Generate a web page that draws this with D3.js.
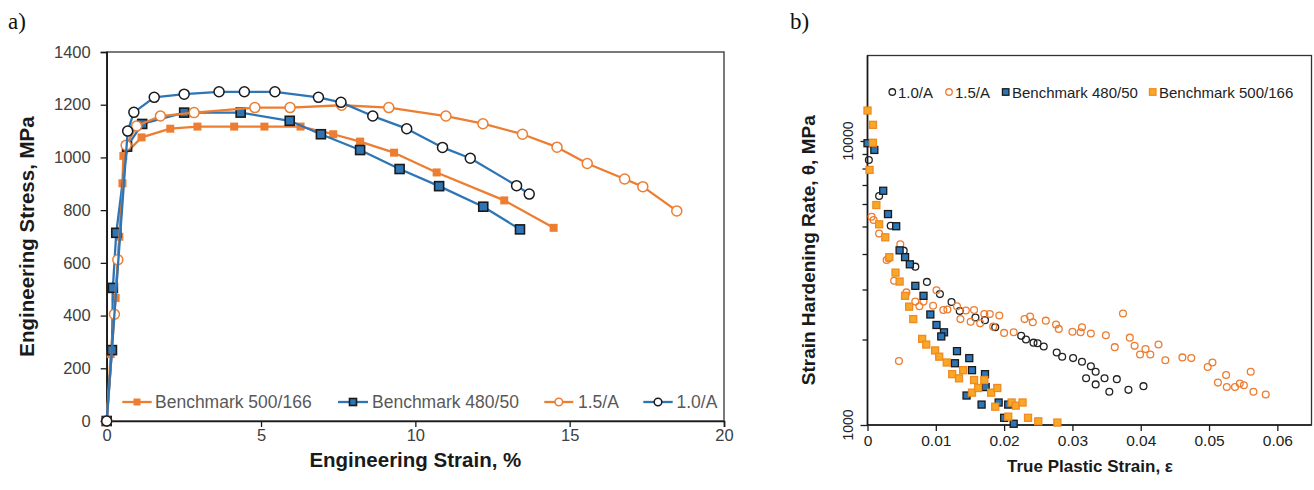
<!DOCTYPE html>
<html>
<head>
<meta charset="utf-8">
<script src="https://cdn.jsdelivr.net/npm/d3@7"></script>
<style>
  html, body { margin: 0; padding: 0; background: #fff; }
  svg { display: block; font-family: "Liberation Sans", Arial, sans-serif; }
</style>
</head>
<body>
<svg id="fig" width="1314" height="490"></svg>
<script>
// ---------- (a) engineering stress-strain curves ----------
const b500Strain = [0, 0.13, 0.29, 0.41, 0.51, 0.54, 1.13, 2.06, 2.94, 4.13, 5.11, 6.28, 7.34, 8.21, 9.31, 10.69, 12.88, 14.48];
const b500Stress = [0, 254, 467, 699, 902, 1006, 1076, 1109, 1117, 1117, 1117, 1117, 1088, 1060, 1018, 943, 837, 733];

const b480Strain = [0, 0.17, 0.2, 0.31, 0.66, 1.15, 2.51, 4.34, 5.93, 6.94, 8.21, 9.49, 10.77, 12.2, 13.39];
const b480Stress = [0, 269, 505, 714, 1041, 1127, 1170, 1170, 1139, 1088, 1028, 956, 891, 813, 727];

const a15Strain = [0, 0.25, 0.36, 0.63, 0.97, 1.74, 2.83, 4.80, 5.94, 7.61, 9.14, 10.99, 12.19, 13.47, 14.59, 15.57, 16.78, 17.37, 18.47];
const a15Stress = [0, 405, 612, 1046, 1119, 1157, 1170, 1189, 1189, 1198, 1189, 1157, 1128, 1088, 1039, 977, 918, 889, 797];

const a10Strain = [0, 0.68, 0.88, 1.54, 2.51, 3.64, 4.46, 5.45, 6.86, 7.59, 8.62, 9.72, 10.88, 11.78, 13.28, 13.69];
const a10Stress = [0, 1100, 1171, 1228, 1240, 1249, 1249, 1249, 1228, 1209, 1157, 1109, 1038, 997, 893, 861];

const strainTicks = [0, 5, 10, 15, 20];
const stressTicks = [0, 200, 400, 600, 800, 1000, 1200, 1400];

// ---------- (b) strain hardening rate ----------
const t10Strain = [0.0002, 0.0017, 0.0034, 0.0053, 0.0070, 0.0087, 0.0106, 0.0123, 0.0135, 0.0158, 0.0172, 0.0187, 0.0225, 0.0232, 0.0243, 0.0249, 0.0258, 0.0277, 0.0285, 0.0301, 0.0314, 0.0327, 0.0334, 0.0320, 0.0334, 0.0347, 0.0365, 0.0354, 0.0382, 0.0404];
const t10Theta = [8570, 6400, 5030, 4110, 3610, 3190, 2890, 2710, 2520, 2390, 2340, 2210, 2060, 2000, 1950, 1940, 1890, 1800, 1740, 1720, 1670, 1610, 1540, 1460, 1390, 1460, 1450, 1310, 1330, 1370];

const t15Strain = [0.0006, 0.0009, 0.0017, 0.0028, 0.0031, 0.0039, 0.0048, 0.0046, 0.0057, 0.0070, 0.0076, 0.0082, 0.0096, 0.0101, 0.0111, 0.0117, 0.0131, 0.0136, 0.0144, 0.0151, 0.0156, 0.0165, 0.0171, 0.0179, 0.0184, 0.0193, 0.0200, 0.0214, 0.0230, 0.0238, 0.0242, 0.0261, 0.0276, 0.0280, 0.0300, 0.0312, 0.0314, 0.0327, 0.0349, 0.0362, 0.0374, 0.0384, 0.0391, 0.0399, 0.0407, 0.0414, 0.0426, 0.0436, 0.0461, 0.0474, 0.0498, 0.0505, 0.0513, 0.0525, 0.0526, 0.0538, 0.0545, 0.0551, 0.0561, 0.0565, 0.0583];
const t15Theta = [5410, 5270, 4720, 3810, 3860, 3220, 4330, 1680, 2930, 2720, 2620, 2720, 2630, 2980, 2540, 2550, 2620, 2360, 2530, 2310, 2540, 2280, 2460, 2460, 2220, 2430, 2110, 2120, 2360, 2410, 2300, 2330, 2260, 2180, 2130, 2120, 2210, 2100, 2070, 1880, 2470, 2030, 1900, 1770, 1850, 1770, 1920, 1690, 1730, 1720, 1600, 1660, 1410, 1500, 1360, 1360, 1400, 1380, 1540, 1310, 1280];

const t480Strain = [0, 0.0010, 0.0023, 0.0030, 0.0042, 0.0047, 0.0055, 0.0062, 0.0070, 0.0082, 0.0092, 0.0101, 0.0112, 0.0108, 0.0131, 0.0128, 0.0149, 0.0153, 0.0172, 0.0173, 0.0145, 0.0167, 0.0192, 0.0206, 0.0200, 0.0214];
const t480Theta = [9820, 9300, 6680, 5530, 5010, 4120, 3900, 3680, 3090, 2850, 2450, 2250, 2120, 2050, 1820, 1650, 1720, 1560, 1510, 1360, 1270, 1180, 1200, 1180, 1060, 1010];

const t500Strain = [0, 0.0008, 0.0008, 0.0003, 0.0013, 0.0017, 0.0026, 0.0032, 0.0041, 0.0047, 0.0055, 0.0061, 0.0067, 0.0080, 0.0086, 0.0099, 0.0105, 0.0116, 0.0124, 0.0134, 0.0140, 0.0153, 0.0156, 0.0162, 0.0171, 0.0181, 0.0187, 0.0190, 0.0206, 0.0211, 0.0217, 0.0227, 0.0235, 0.0250, 0.0278];
const t500Theta = [12800, 11400, 9860, 7910, 5950, 5090, 4580, 3900, 3440, 3200, 2850, 2610, 2360, 2010, 1920, 1830, 1740, 1660, 1510, 1460, 1560, 1300, 1440, 1350, 1440, 1300, 1160, 1350, 1070, 1200, 1170, 1200, 1060, 1030, 1020];

const trueStrainTicks = [0, 0.01, 0.02, 0.03, 0.04, 0.05, 0.06];
const thetaMajorTicks = [1000, 10000];
const thetaMinorTicks = [2000, 3000, 4000, 5000, 6000, 7000, 8000, 9000];

const ORANGE = "#ED7D31";
const BLUE = "#2E75B6";
const GOLD = "#F9A825";
const INK = "#1a1a1a";
const TEXT = "#404040";

const svg = d3.select("#fig");
const zip = (xs, ys) => xs.map((x, i) => [x, ys[i]]);

// panel letters
svg.append("text").attr("x", 8).attr("y", 29).attr("font-family", "'Liberation Serif', 'Times New Roman', serif")
  .attr("font-size", 23).attr("fill", "#111").text("a)");
svg.append("text").attr("x", 790).attr("y", 29).attr("font-family", "'Liberation Serif', 'Times New Roman', serif")
  .attr("font-size", 23).attr("fill", "#111").text("b)");

// ================= panel (a) =================
const A = { left: 106.7, right: 724, top: 52, bottom: 421 };
const xA = d3.scaleLinear().domain([0, 20]).range([A.left, A.right]);
const yA = d3.scaleLinear().domain([0, 1400]).range([A.bottom, A.top]);

const gA = svg.append("g");

// frame
gA.append("rect").attr("x", A.left).attr("y", A.top).attr("width", A.right - A.left).attr("height", A.bottom - A.top)
  .attr("fill", "none").attr("stroke", "#333").attr("stroke-width", 1.3);

const axA_x = gA.append("g").attr("transform", `translate(0,${A.bottom})`)
  .call(d3.axisBottom(xA).tickValues(strainTicks).tickSize(6).tickPadding(2).tickFormat(d3.format("d")));
const axA_y = gA.append("g").attr("transform", `translate(${A.left},0)`)
  .call(d3.axisLeft(yA).tickValues(stressTicks).tickSize(6).tickPadding(10).tickFormat(d3.format("d")));
[axA_x, axA_y].forEach(ax => {
  ax.select(".domain").attr("stroke", INK).attr("stroke-width", 1.6);
  ax.selectAll(".tick line").attr("stroke", INK).attr("stroke-width", 1.3);
  ax.selectAll(".tick text").attr("font-family", "'Liberation Sans', Arial, sans-serif")
    .attr("font-size", 16.5).attr("fill", TEXT);
});

gA.append("text").attr("x", (A.left + A.right) / 2).attr("y", 467).attr("text-anchor", "middle")
  .attr("font-weight", "bold").attr("font-size", 20.5).attr("fill", INK).text("Engineering Strain, %");
gA.append("text").attr("transform", `translate(34,${(A.top + A.bottom) / 2}) rotate(-90)`).attr("text-anchor", "middle")
  .attr("font-weight", "bold").attr("font-size", 20.5).attr("fill", INK).text("Engineering Stress, MPa");

const lineA = d3.line().x(d => xA(d[0])).y(d => yA(d[1]));

const seriesA = [
  { name: "Benchmark 500/166", pts: zip(b500Strain, b500Stress), color: ORANGE, marker: "sq", fill: ORANGE, stroke: "none", size: 8 },
  { name: "Benchmark 480/50", pts: zip(b480Strain, b480Stress), color: BLUE, marker: "sq", fill: BLUE, stroke: INK, size: 9 },
  { name: "1.5/A", pts: zip(a15Strain, a15Stress), color: ORANGE, marker: "ci", fill: "#fff", stroke: ORANGE, size: 5 },
  { name: "1.0/A", pts: zip(a10Strain, a10Stress), color: BLUE, marker: "ci", fill: "#fff", stroke: INK, size: 5 }
];

function drawMarker(g, m, cx, cy, s) {
  if (m.marker === "sq") {
    g.append("rect").attr("x", cx - s / 2).attr("y", cy - s / 2).attr("width", s).attr("height", s)
      .attr("fill", m.fill).attr("stroke", m.stroke).attr("stroke-width", m.stroke === "none" ? 0 : 1.6);
  } else {
    g.append("circle").attr("cx", cx).attr("cy", cy).attr("r", s)
      .attr("fill", m.fill).attr("stroke", m.stroke).attr("stroke-width", 1.5);
  }
}

seriesA.forEach(s => {
  const g = gA.append("g");
  g.append("path").datum(s.pts).attr("d", lineA).attr("fill", "none")
    .attr("stroke", s.color).attr("stroke-width", 2.3).attr("stroke-linejoin", "round");
  s.pts.forEach(p => drawMarker(g, s, xA(p[0]), yA(p[1]), s.size));
});

// legend for (a)
const legA = [
  { x0: 122.3, x1: 151.7, tx: 155 },
  { x0: 338, x1: 368, tx: 372 },
  { x0: 544.3, x1: 573.3, tx: 578 },
  { x0: 643.3, x1: 672.7, tx: 676.5 }
];
const legAy = 402;
seriesA.forEach((s, i) => {
  const L = legA[i];
  gA.append("line").attr("x1", L.x0).attr("x2", L.x1).attr("y1", legAy).attr("y2", legAy)
    .attr("stroke", s.color).attr("stroke-width", 2.3);
  drawMarker(gA, s, (L.x0 + L.x1) / 2, legAy, s.marker === "sq" ? 7 : 3.8);
  gA.append("text").attr("x", L.tx).attr("y", legAy + 6).attr("font-size", 17.5).attr("fill", "#595959").text(s.name);
});

// ================= panel (b) =================
const B = { left: 867.5, right: 1311.5, top: 55.5, bottom: 425 };
const xB = d3.scaleLinear().domain([0, 0.065]).range([B.left, B.right]);
const yB = d3.scaleLog().domain([1000, 20000]).range([B.bottom, B.top]);

const gB = svg.append("g");
gB.append("rect").attr("x", B.left).attr("y", B.top).attr("width", B.right - B.left).attr("height", B.bottom - B.top)
  .attr("fill", "none").attr("stroke", "#333").attr("stroke-width", 1.3);

const axB_x = gB.append("g").attr("transform", `translate(0,${B.bottom})`)
  .call(d3.axisBottom(xB).tickValues(trueStrainTicks).tickSize(6).tickPadding(4).tickFormat(d => d === 0 ? "0" : d3.format(".2f")(d)));
axB_x.select(".domain").remove();
gB.append("line").attr("x1", B.left).attr("x2", B.right).attr("y1", B.bottom).attr("y2", B.bottom)
  .attr("stroke", INK).attr("stroke-width", 1.6);

const axB_y = gB.append("g").attr("transform", `translate(${B.left},0)`)
  .call(d3.axisLeft(yB).tickValues(thetaMinorTicks).tickSize(5).tickFormat(""));
axB_y.select(".domain").remove();
const axB_yMaj = gB.append("g").attr("transform", `translate(${B.left},0)`)
  .call(d3.axisLeft(yB).tickValues(thetaMajorTicks).tickSize(7).tickFormat(""));
axB_yMaj.select(".domain").remove();
gB.append("line").attr("x1", B.left).attr("x2", B.left).attr("y1", B.top).attr("y2", B.bottom)
  .attr("stroke", INK).attr("stroke-width", 1.6);

[axB_x, axB_y, axB_yMaj].forEach(ax => ax.selectAll(".tick line").attr("stroke", INK).attr("stroke-width", 1.3));
axB_x.selectAll(".tick text").attr("font-family", "'Liberation Sans', Arial, sans-serif")
  .attr("font-size", 15.5).attr("fill", "#222");

// rotated major labels on log axis
thetaMajorTicks.forEach(v => {
  gB.append("text").attr("transform", `translate(853,${yB(v)}) rotate(-90)`).attr("text-anchor", "middle")
    .attr("font-size", 14).attr("fill", "#222").text(d3.format("d")(v));
});

gB.append("text").attr("x", 1090).attr("y", 472).attr("text-anchor", "middle")
  .attr("font-weight", "bold").attr("font-size", 17).attr("fill", INK).text("True Plastic Strain, ε");
gB.append("text").attr("transform", `translate(815,${(B.top + B.bottom) / 2 + 10}) rotate(-90)`).attr("text-anchor", "middle")
  .attr("font-weight", "bold").attr("font-size", 19).attr("fill", INK).text("Strain Hardening Rate, θ, MPa");

const seriesB = [
  { name: "1.0/A", pts: zip(t10Strain, t10Theta), marker: "ci", fill: "none", stroke: "#222" },
  { name: "1.5/A", pts: zip(t15Strain, t15Theta), marker: "ci", fill: "none", stroke: ORANGE },
  { name: "Benchmark 480/50", pts: zip(t480Strain, t480Theta), marker: "sq", fill: BLUE, stroke: INK },
  { name: "Benchmark 500/166", pts: zip(t500Strain, t500Theta), marker: "sq", fill: GOLD, stroke: "#F08A24" }
];

function drawMarkerB(g, m, cx, cy, s) {
  if (m.marker === "sq") {
    g.append("rect").attr("x", cx - s / 2).attr("y", cy - s / 2).attr("width", s).attr("height", s)
      .attr("fill", m.fill).attr("stroke", m.stroke).attr("stroke-width", 1.3);
  } else {
    g.append("circle").attr("cx", cx).attr("cy", cy).attr("r", s / 2)
      .attr("fill", m.fill).attr("stroke", m.stroke).attr("stroke-width", 1.3);
  }
}

seriesB.forEach(s => {
  const g = gB.append("g");
  s.pts.forEach(p => drawMarkerB(g, s, xB(p[0]), yB(p[1]), s.marker === "sq" ? 7 : 6.8));
});

// legend for (b)
const legB = [
  { mx: 892.3, tx: 898 },
  { mx: 949, tx: 955 },
  { mx: 1005.7, tx: 1012 },
  { mx: 1152.7, tx: 1159 }
];
const legBy = 92;
seriesB.forEach((s, i) => {
  const L = legB[i];
  drawMarkerB(gB, s, L.mx, legBy, s.marker === "sq" ? 6.5 : 6.5);
  gB.append("text").attr("x", L.tx).attr("y", legBy + 5.5).attr("font-size", 15).attr("fill", "#222").text(s.name);
});
</script>
</body>
</html>
